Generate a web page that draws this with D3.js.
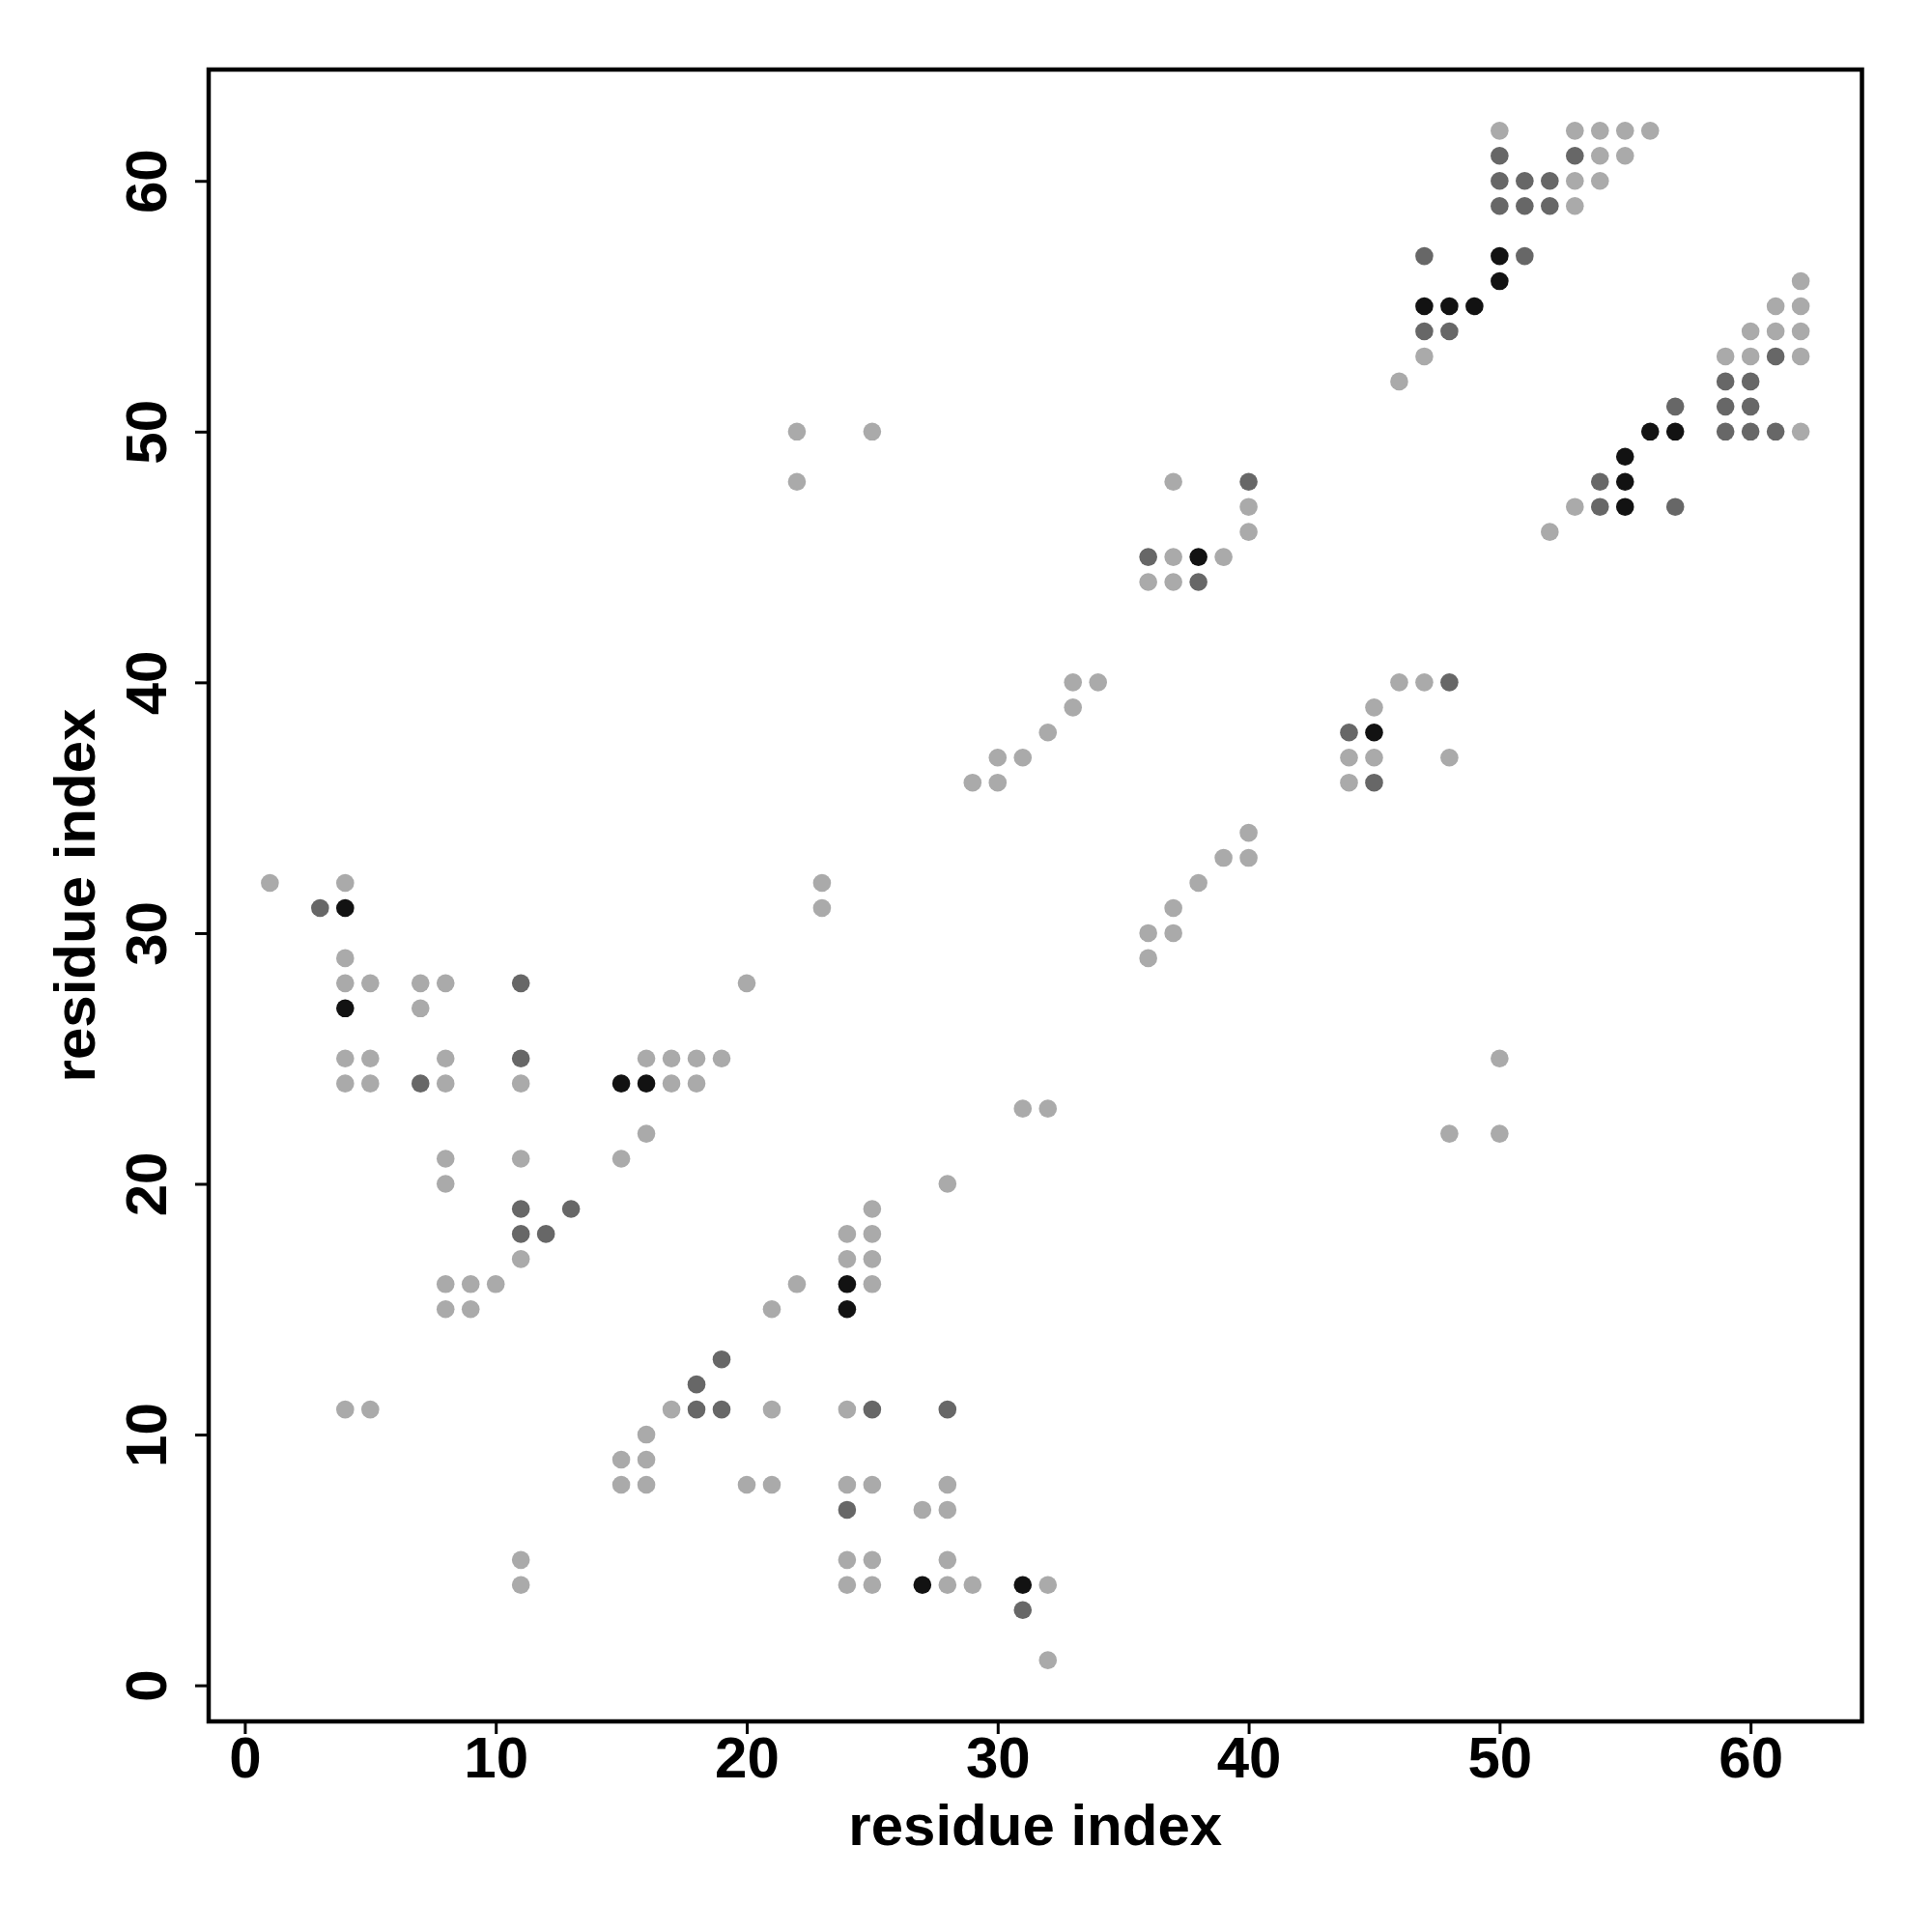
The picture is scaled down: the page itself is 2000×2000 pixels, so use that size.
<!DOCTYPE html>
<html>
<head>
<meta charset="utf-8">
<script src="https://cdn.jsdelivr.net/npm/d3@7"></script>
<style>
  html, body { margin: 0; padding: 0; background: #ffffff; }
  svg { display: block; }
  text { font-family: "Liberation Sans", Arial, Helvetica, sans-serif; font-weight: bold; fill: #000; }
</style>
</head>
<body>
<svg id="chart" width="2000" height="2000"></svg>
<script>
// ---- data: contacts (residue i, residue j) by strength level ----
const weakContacts = [
  [50,62],[53,62],[54,62],[55,62],[56,62],
  [54,61],[55,61],[53,60],[54,60],[53,59],
  [47,53],[46,52],
  [62,56],[61,55],[62,55],[60,54],[61,54],[62,54],[59,53],[60,53],[62,53],[62,50],[53,47],[52,46],
  [22,50],[25,50],[22,48],
  [37,48],[40,47],[40,46],[37,45],[39,45],[36,44],[37,44],
  [33,40],[34,40],[33,39],[32,38],[30,37],[31,37],[29,36],[30,36],
  [46,40],[47,40],[45,39],[44,37],[45,37],[48,37],[44,36],
  [40,34],[39,33],[40,33],[38,32],[37,31],[36,30],[37,30],[36,29],
  [23,32],[23,31],
  [50,25],[48,22],[50,22],
  [31,23],[32,23],
  [1,32],[4,32],[4,29],[4,28],[5,28],[7,28],[8,28],[20,28],[7,27],
  [4,25],[5,25],[8,25],[16,25],[17,25],[18,25],[19,25],
  [4,24],[5,24],[8,24],[11,24],[17,24],[18,24],
  [16,22],[8,21],[11,21],[15,21],[8,20],[28,20],
  [25,19],[24,18],[25,18],[11,17],[24,17],[25,17],
  [8,16],[9,16],[10,16],[22,16],[25,16],
  [8,15],[9,15],[21,15],
  [4,11],[5,11],[17,11],[21,11],[24,11],
  [16,10],[15,9],[16,9],
  [15,8],[16,8],[20,8],[21,8],[24,8],[25,8],[28,8],
  [27,7],[28,7],
  [11,5],[24,5],[25,5],[28,5],
  [11,4],[24,4],[25,4],[28,4],[29,4],[32,4],
  [32,1]
];
const mediumContacts = [
  [50,61],[53,61],[50,60],[51,60],[52,60],[50,59],[51,59],[52,59],
  [47,57],[51,57],[47,54],[48,54],
  [61,53],[59,52],[60,52],[57,51],[59,51],[60,51],[59,50],[60,50],[61,50],
  [54,48],[54,47],[57,47],
  [40,48],[36,45],[38,44],
  [48,40],[44,38],[45,36],
  [3,31],[11,28],[11,25],[7,24],
  [11,19],[13,19],[11,18],[12,18],
  [19,13],[18,12],[18,11],[19,11],[25,11],[28,11],
  [24,7],[31,3]
];
const strongContacts = [
  [50,57],[50,56],[47,55],[48,55],[49,55],
  [56,50],[57,50],[55,49],[55,48],[55,47],
  [38,45],[45,38],
  [4,31],[4,27],[15,24],[16,24],
  [24,16],[24,15],
  [27,4],[31,4]
];
const levelColors = ["#aaaaaa", "#676767", "#121212"];
const xTicks = [0, 10, 20, 30, 40, 50, 60];
const yTicks = [0, 10, 20, 30, 40, 50, 60];
const xLabel = "residue index";
const yLabel = "residue index";

// ---- layout ----
const svg = d3.select("#chart");
const plotL = 216, plotR = 1927.5, plotT = 72, plotB = 1782;
const x = d3.scaleLinear().domain([-1.44, 64.44]).range([plotL, plotR]);
const y = d3.scaleLinear().domain([-1.44, 64.44]).range([plotB, plotT]);

const groups = [weakContacts, mediumContacts, strongContacts];
const pts = [];
groups.forEach((g, lvl) => g.forEach(d => pts.push({i: d[0], j: d[1], lvl})));

svg.append("g").selectAll("circle")
  .data(pts)
  .join("circle")
  .attr("cx", d => x(d.i))
  .attr("cy", d => y(d.j))
  .attr("r", 9.3)
  .attr("fill", d => levelColors[d.lvl]);

// ---- axes ----
const xAxis = svg.append("g")
  .attr("transform", `translate(0,${plotB})`)
  .call(d3.axisBottom(x).tickValues(xTicks).tickFormat(d3.format("d")).tickSize(13).tickPadding(0));
xAxis.select(".domain").remove();
xAxis.selectAll(".tick line").attr("stroke", "#000").attr("stroke-width", 3);
xAxis.selectAll(".tick text")
  .attr("y", 58).attr("dy", 0)
  .style("font-size", "60px")
  .style("font-family", "'Liberation Sans', Arial, sans-serif")
  .style("font-weight", "bold")
  .attr("fill", "#000");

const yAxis = svg.append("g")
  .attr("transform", `translate(${plotL},0)`)
  .call(d3.axisLeft(y).tickValues(yTicks).tickFormat(d3.format("d")).tickSize(14).tickPadding(0));
yAxis.select(".domain").remove();
yAxis.selectAll(".tick line").attr("stroke", "#000").attr("stroke-width", 3);
yAxis.selectAll(".tick text")
  .attr("x", 0).attr("dy", 0)
  .attr("text-anchor", "middle")
  .attr("transform", "translate(-44,0) rotate(-90)")
  .style("font-size", "60px")
  .style("font-family", "'Liberation Sans', Arial, sans-serif")
  .style("font-weight", "bold")
  .attr("fill", "#000");

// ---- frame ----
svg.append("rect")
  .attr("x", plotL).attr("y", plotT)
  .attr("width", plotR - plotL).attr("height", plotB - plotT)
  .attr("fill", "none").attr("stroke", "#000").attr("stroke-width", 4.5);

// ---- titles ----
svg.append("text")
  .attr("x", (plotL + plotR) / 2).attr("y", 1910)
  .attr("text-anchor", "middle")
  .style("font-size", "60px")
  .text(xLabel);

svg.append("text")
  .attr("transform", `translate(98,${(plotT + plotB) / 2}) rotate(-90)`)
  .attr("text-anchor", "middle")
  .style("font-size", "60px")
  .text(yLabel);
</script>
</body>
</html>
